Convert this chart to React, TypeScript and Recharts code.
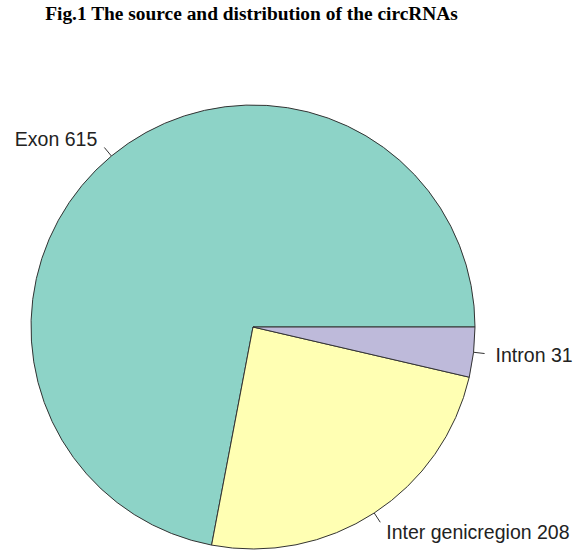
import { Cell, Pie, PieChart } from 'recharts'

const categories = ['Exon', 'Intron', 'Inter genicregion']
const counts = [615, 31, 208]
const colors = ['#8dd3c7', '#bebada', '#ffffb3']

// keep the original order: Exon, Inter genicregion, Intron going counterclockwise from 3 o'clock
const order = [0, 2, 1]
const data = order.map(i => ({ name: categories[i], value: counts[i], color: colors[i] }))

const RAD = Math.PI / 180

function renderLabel(props: any) {
  const { cx, cy, midAngle, outerRadius, name, value } = props
  const cos = Math.cos(-midAngle * RAD)
  const sin = Math.sin(-midAngle * RAD)
  const x1 = cx + outerRadius * cos
  const y1 = cy + outerRadius * sin
  const x2 = cx + outerRadius * 1.05 * cos
  const y2 = cy + outerRadius * 1.05 * sin
  const tx = cx + outerRadius * 1.1 * cos
  const ty = cy + outerRadius * 1.1 * sin
  return (
    <g>
      <line x1={x1} y1={y1} x2={x2} y2={y2} stroke="#333" strokeWidth={1} />
      <text
        x={tx}
        y={ty}
        textAnchor={cos >= 0 ? 'start' : 'end'}
        dominantBaseline="central"
        fill="#222"
        fontSize={19.5}
        fontFamily="'Liberation Sans', Arial, sans-serif"
      >
        {`${name} ${value}`}
      </text>
    </g>
  )
}

export default function App() {
  return (
    <div style={{ position: 'absolute', left: 0, top: 0, width: 581, height: 556, background: '#fff' }}>
      <div
        style={{
          position: 'absolute',
          top: 3,
          left: 0,
          width: 503,
          textAlign: 'center',
          fontFamily: "'Liberation Serif', 'Times New Roman', serif",
          fontWeight: 'bold',
          fontSize: 19.4,
          color: '#000',
          whiteSpace: 'nowrap',
        }}
      >
        Fig.1 The source and distribution of the circRNAs
      </div>
      <PieChart width={581} height={556} margin={{ top: 0, right: 0, bottom: 0, left: 0 }}>
        <Pie
          data={data}
          dataKey="value"
          nameKey="name"
          cx={253}
          cy={327}
          outerRadius={222}
          startAngle={0}
          endAngle={360}
          label={renderLabel}
          labelLine={false}
          isAnimationActive={false}
        >
          {data.map(d => (
            <Cell key={d.name} fill={d.color} stroke="#333" strokeWidth={1} />
          ))}
        </Pie>
      </PieChart>
    </div>
  )
}
